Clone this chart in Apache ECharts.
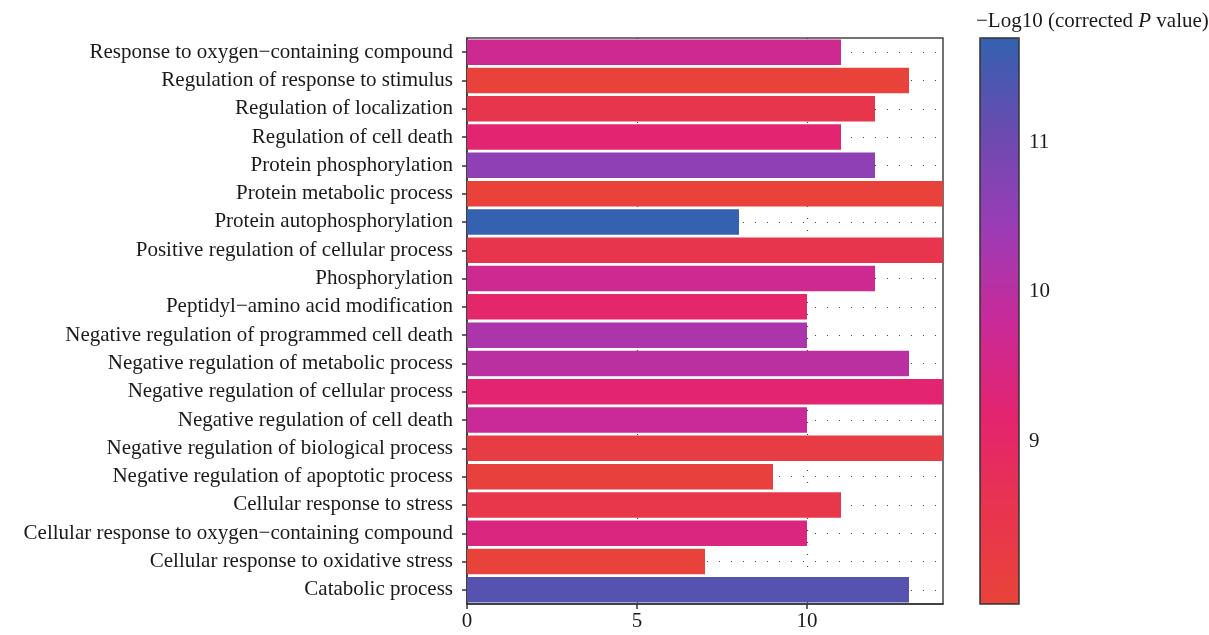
<!DOCTYPE html>
<html>
<head>
<meta charset="utf-8">
<script src="https://cdn.jsdelivr.net/npm/echarts@6/dist/echarts.min.js"></script>
<style>
html,body{margin:0;padding:0;background:#fff;}
#chart{width:1209px;height:635px;}
</style>
</head>
<body>
<div id="chart"></div>
<script>
const categories = [
  "Response to oxygen\u2212containing compound",
  "Regulation of response to stimulus",
  "Regulation of localization",
  "Regulation of cell death",
  "Protein phosphorylation",
  "Protein metabolic process",
  "Protein autophosphorylation",
  "Positive regulation of cellular process",
  "Phosphorylation",
  "Peptidyl\u2212amino acid modification",
  "Negative regulation of programmed cell death",
  "Negative regulation of metabolic process",
  "Negative regulation of cellular process",
  "Negative regulation of cell death",
  "Negative regulation of biological process",
  "Negative regulation of apoptotic process",
  "Cellular response to stress",
  "Cellular response to oxygen\u2212containing compound",
  "Cellular response to oxidative stress",
  "Catabolic process"
];
const geneCounts = [11, 13, 12, 11, 12, 14, 8, 14, 12, 10, 10, 13, 14, 10, 14, 9, 11, 10, 7, 13];
const negLogP = [9.7, 7.95, 8.5, 9.2, 10.6, 7.95, 11.7, 8.5, 9.7, 9.1, 10.2, 10.0, 9.2, 9.8, 8.2, 8.0, 8.4, 9.4, 7.91, 11.3];
const xTickLabels = [0, 5, 10];
const colorbarTicks = [9, 10, 11];
const colorMin = 7.91, colorMax = 11.7;

const serif = '"Liberation Serif", "DejaVu Serif", serif';
const fs = 21;
const dotted = { type: [1, 11], color: '#444', width: 1.2 };

const chart = echarts.init(document.getElementById('chart'), null, { renderer: 'canvas' });
chart.setOption({
  animation: false,
  backgroundColor: '#fff',
  title: {
    text: '\u2212Log10 (corrected {i|P} value)',
    left: 976, top: 11, padding: 0,
    textStyle: {
      fontFamily: serif, fontSize: fs, fontWeight: 'normal', color: '#1a1a1a',
      rich: { i: { fontFamily: serif, fontSize: fs, fontStyle: 'italic', color: '#1a1a1a' } }
    }
  },
  grid: [
    { left: 467, top: 38, width: 476, height: 566, show: true, borderColor: '#444', borderWidth: 1.5, backgroundColor: 'transparent' },
    { left: 980, top: 38, width: 39, height: 566, show: true, borderColor: '#333', borderWidth: 1.5, backgroundColor: 'transparent', z: 10 }
  ],
  xAxis: [
    {
      type: 'value', gridIndex: 0, min: 0, max: 14, interval: 2.5,
      axisLine: { show: true, lineStyle: { color: '#333', width: 1.5 } },
      axisTick: { show: true, length: 5, customValues: xTickLabels, lineStyle: { color: '#333', width: 1.5 } },
      axisLabel: { customValues: xTickLabels, fontFamily: serif, fontSize: fs, color: '#1a1a1a', margin: 7 },
      splitLine: { show: true, lineStyle: dotted }
    },
    { type: 'value', gridIndex: 1, min: 0, max: 1, show: false }
  ],
  yAxis: [
    {
      type: 'category', gridIndex: 0, data: categories, inverse: true,
      axisLine: { show: true, lineStyle: { color: '#333', width: 1.5 } },
      axisTick: { show: true, alignWithLabel: true, length: 5, lineStyle: { color: '#333', width: 1.5 } },
      axisLabel: { fontFamily: serif, fontSize: fs, color: '#1a1a1a', margin: 14 },
      splitLine: { show: true, alignWithLabel: true, lineStyle: dotted }
    },
    {
      type: 'value', gridIndex: 1, min: colorMin, max: colorMax, position: 'right',
      axisLine: { show: false },
      axisTick: { show: true, length: 6, customValues: colorbarTicks, lineStyle: { color: '#333', width: 1.5 } },
      axisLabel: { customValues: colorbarTicks, fontFamily: serif, fontSize: fs, color: '#1a1a1a', margin: 10 },
      splitLine: { show: false }
    }
  ],
  visualMap: {
    type: 'continuous', min: colorMin, max: colorMax, dimension: 2, seriesIndex: 0,
    left: 980, top: 38, itemWidth: 39, itemHeight: 566, padding: 0,
    calculable: false, hoverLink: false, text: null, showLabel: false,
    inRange: { color: ['#E8433A', '#E8344F', '#E3246F', '#C92A98', '#9B3CB6', '#6A4BB0', '#3461B0'] }
  },
  series: [{
    type: 'bar', xAxisIndex: 0, yAxisIndex: 0,
    barCategoryGap: '10%',
    encode: { x: 0, y: 1 },
    data: geneCounts.map((c, i) => [c, i, negLogP[i]])
  }]
});
</script>
</body>
</html>
